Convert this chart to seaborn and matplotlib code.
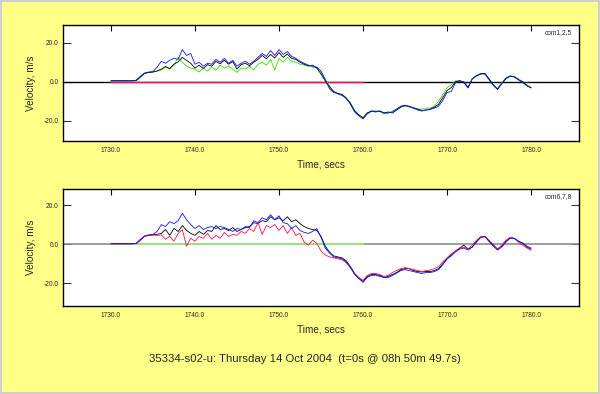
#!/usr/bin/env python3
"""
Velocity traces for two component groups (com1,2,5 and com6,7,8) over time.
"""

import numpy as np
import pandas as pd
import matplotlib
matplotlib.use('Agg')
import matplotlib.pyplot as plt
from matplotlib.ticker import FormatStrFormatter
import seaborn as sns

# Sample times, secs
time_s = [
    1730.0, 1730.5, 1731.0, 1731.5, 1732.0, 1732.5, 1733.0, 1733.5, 1734.0, 1734.5,
    1735.0, 1735.5, 1736.0, 1736.5, 1737.0, 1737.5, 1738.0, 1738.5, 1739.0, 1739.5,
    1740.0, 1740.5, 1741.0, 1741.5, 1742.0, 1742.5, 1743.0, 1743.5, 1744.0, 1744.5,
    1745.0, 1745.5, 1746.0, 1746.5, 1747.0, 1747.5, 1748.0, 1748.5, 1749.0, 1749.5,
    1750.0, 1750.5, 1751.0, 1751.5, 1752.0, 1752.5, 1753.0, 1753.5, 1754.0, 1754.5,
    1755.0, 1755.5, 1756.0, 1756.5, 1757.0, 1757.5, 1758.0, 1758.5, 1759.0, 1759.5,
    1760.0, 1760.5, 1761.0, 1761.5, 1762.0, 1762.5, 1763.0, 1763.5, 1764.0, 1764.5,
    1765.0, 1765.5, 1766.0, 1766.5, 1767.0, 1767.5, 1768.0, 1768.5, 1769.0, 1769.5,
    1770.0, 1770.5, 1771.0, 1771.5, 1772.0, 1772.5, 1773.0, 1773.5, 1774.0, 1774.5,
    1775.0, 1775.5, 1776.0, 1776.5, 1777.0, 1777.5, 1778.0, 1778.5, 1779.0, 1779.5,
    1780.0,
]

# Top panel (com1,2,5), m/s
top_black = [
    0.5, 0.5, 0.5, 0.5, 0.5, 0.5, 0.6, 2.5, 4.3, 4.8,
    5.0, 5.5, 6.5, 7.8, 6.8, 9.0, 10.2, 12.5, 11.0, 9.5,
    7.0, 8.5, 6.8, 8.8, 8.0, 10.5, 9.2, 11.0, 9.0, 10.3,
    6.5, 8.8, 9.5, 8.2, 10.0, 11.5, 13.5, 11.8, 14.0, 12.2,
    15.0, 12.5, 14.2, 12.0, 11.5, 10.0, 9.0, 8.2, 8.5, 7.0,
    4.0, 0.5, -2.5, -5.0, -6.0, -6.5, -8.5, -11.0, -15.0, -17.0,
    -18.5, -16.0, -15.0, -15.2, -15.0, -16.0, -15.5, -16.0, -14.5, -13.0,
    -12.2, -12.5, -13.5, -14.0, -14.8, -14.5, -14.0, -13.0, -11.5, -8.0,
    -4.5, -3.0, 0.0, 0.5, -0.5, -3.0, 1.5, 3.0, 4.0, 4.3,
    1.5, -1.5, -3.8, -1.0, 1.5, 2.8, 2.5, 1.0, 0.0, -2.0,
    -3.2,
]
top_blue = [
    0.5, 0.5, 0.5, 0.5, 0.5, 0.5, 0.8, 2.8, 4.5, 5.0,
    5.2, 7.5, 10.5, 9.5, 11.0, 12.0, 11.5, 16.5, 13.5, 14.5,
    9.0, 10.0, 8.0, 9.5, 9.0, 11.5, 10.0, 12.0, 9.5, 11.0,
    8.0, 9.5, 10.5, 9.0, 10.5, 12.5, 14.5, 13.0, 16.0, 13.5,
    16.5, 14.0, 15.5, 13.0, 12.0, 10.5, 9.5, 8.5, 8.0, 7.5,
    5.5, 1.0, -3.5, -5.5, -6.2, -7.0, -8.5, -11.5, -15.5, -17.5,
    -19.0, -16.5, -15.2, -15.5, -15.0, -16.0, -16.0, -15.5, -14.0, -12.5,
    -12.0, -12.8, -13.5, -14.5, -15.0, -14.5, -14.2, -13.5, -12.5, -9.5,
    -5.5, -5.0, -0.5, 0.5, 0.0, -3.2, 1.5, 3.2, 4.2, 4.0,
    1.0, -1.8, -4.0, -1.0, 1.8, 3.0, 2.5, 1.0, -0.5, -2.0,
    -3.0,
]
top_green = [
    0.5, 0.5, 0.5, 0.5, 0.5, 0.5, 0.5, 2.0, 4.2, 4.8,
    5.0, 5.5, 6.0, 7.5, 6.5, 8.5, 12.5, 10.0, 8.0, 7.0,
    6.5, 5.0, 7.0, 5.5, 7.5, 6.0, 8.5, 7.0, 8.0, 6.5,
    4.8, 7.0, 6.5, 8.0, 6.0, 9.0, 10.0, 8.5, 11.5, 6.0,
    12.0, 10.0, 12.5, 10.5, 10.0, 9.0, 8.5, 8.0, 7.5, 7.0,
    5.0, 1.5, -2.0, -5.0, -6.0, -6.5, -8.0, -11.0, -14.5, -17.0,
    -18.5, -16.0, -15.0, -15.0, -15.2, -16.5, -16.0, -15.0, -14.0, -12.8,
    -12.5, -13.0, -13.0, -14.0, -14.0, -13.5, -13.5, -12.5, -10.0, -6.5,
    -3.0, -1.5, 0.5, 0.5, 0.0, -2.5, 1.5, 3.0, 4.0, 4.0,
    1.5, -1.5, -3.5, -0.5, 2.0, 3.0, 2.8, 1.5, 0.0, -1.5,
    -3.0,
]
top_flat_time = [1730.0, 1760.0]
top_flat = [0.0, 0.0]

# Bottom panel (com6,7,8), m/s
bot_black = [
    0.2, 0.2, 0.2, 0.2, 0.2, 0.2, 0.3, 2.0, 4.0, 4.5,
    4.8, 5.0, 5.5, 7.5, 4.5, 8.0, 6.5, 9.5, 7.0, 5.5,
    4.5, 6.5, 5.0, 7.0, 6.5, 9.5, 7.5, 8.0, 7.0, 8.5,
    6.5, 7.5, 8.5, 9.0, 11.0, 10.5, 12.0, 11.5, 14.0, 12.5,
    13.5, 12.0, 14.0, 11.5, 12.5, 10.5, 9.0, 8.0, 7.5, 7.0,
    4.0, -1.0, -4.0, -6.0, -6.5, -7.0, -8.5, -11.5, -15.0, -17.5,
    -19.0, -16.5, -15.5, -15.5, -16.0, -17.0, -16.5, -15.5, -14.5, -13.0,
    -12.5, -12.5, -13.5, -14.0, -14.2, -14.0, -14.0, -13.5, -12.5, -10.0,
    -7.5, -5.5, -3.5, -2.0, -0.5, -2.5, -1.5, 1.5, 3.5, 3.8,
    1.5, -0.5, -2.5, -1.0, 1.5, 3.2, 3.0, 1.5, 0.5, -1.5,
    -2.5,
]
bot_blue = [
    0.2, 0.2, 0.2, 0.2, 0.2, 0.2, 0.4, 2.5, 4.2, 4.8,
    5.0, 6.5, 10.0, 9.0, 11.5, 10.5, 12.0, 15.8, 12.5, 10.0,
    8.0, 9.5, 7.5, 8.5, 9.0, 8.0, 9.0, 8.5, 7.5, 6.5,
    8.0, 7.5, 9.0, 8.5, 12.0, 11.0, 13.5, 12.5, 15.0, 12.5,
    14.5, 11.0, 10.5, 8.0, 9.5, 7.0, 6.0, 5.5, 6.5, 8.0,
    3.5, -2.0, -4.5, -6.5, -7.0, -7.5, -9.0, -12.0, -15.5, -17.5,
    -19.5, -17.0, -16.0, -15.8, -16.5, -17.0, -17.0, -16.0, -14.8, -13.5,
    -13.0, -13.5, -14.0, -14.5, -15.0, -14.5, -14.5, -14.0, -13.0, -10.5,
    -7.5, -6.0, -4.0, -2.5, -2.0, -3.0, -1.5, 1.0, 3.5, 4.0,
    1.5, -1.0, -3.0, -1.5, 1.0, 3.0, 3.0, 1.5, 0.5, -1.0,
    -2.0,
]
bot_red = [
    0.2, 0.2, 0.2, 0.2, 0.2, 0.2, 0.3, 2.0, 4.0, 4.5,
    4.6, 4.5, 4.8, 2.5, 4.0, 1.5, 5.5, 7.5, -1.0, 3.0,
    1.5, 4.0, 3.0, 5.5, 2.5, 4.5, 3.0, 6.0, 4.0, 5.0,
    4.5, 6.5, 5.5, 8.0, 6.5, 11.0, 5.0, 9.5, 8.5, 10.0,
    7.0, 9.5, 5.5, 8.5, 4.5, 5.5, 1.0, -0.5, 2.0, 0.5,
    -3.5, -5.5, -6.5, -7.0, -7.5, -8.0, -9.5, -12.0, -15.0, -17.0,
    -18.5, -16.0, -15.0, -15.0, -15.5, -16.5, -16.0, -14.5, -13.5, -12.5,
    -12.0, -12.5, -13.0, -13.5, -14.0, -13.5, -13.2, -12.5, -11.5, -9.0,
    -7.0, -5.0, -3.5, -2.0, -1.5, -2.5, -0.5, 2.0, 3.8, 4.0,
    2.0, 0.0, -2.8, -0.5, 2.0, 3.5, 3.0, 1.0, -0.5, -2.0,
    -3.2,
]
bot_flat_time = [1730.0, 1760.0]
bot_flat = [0.0, 0.0]

x_ticks = [1730, 1740, 1750, 1760, 1770, 1780]
y_ticks = [-20, 0, 20]

BG = '#FFFF88'


def long_frame(series):
    parts = []
    for name, vals in series.items():
        parts.append(pd.DataFrame({'time': time_s, 'velocity': vals, 'trace': name}))
    return pd.concat(parts, ignore_index=True)


def style_axis(ax, ylim, tag):
    ax.set_facecolor('white')
    ax.set_xlim(1724.3, 1785.7)
    ax.set_ylim(*ylim)
    ax.set_xticks(x_ticks)
    ax.set_yticks(y_ticks)
    ax.xaxis.set_major_formatter(FormatStrFormatter('%.1f'))
    ax.yaxis.set_major_formatter(FormatStrFormatter('%.1f'))
    ax.tick_params(axis='x', direction='in', top=True, bottom=False,
                   labelbottom=True, length=4, width=0.8, pad=4,
                   labelsize=4.8, color='black')
    ax.tick_params(axis='y', direction='in', left=True, right=True,
                   length=6, width=0.8, pad=3, labelsize=4.8, color='#333333')
    for sp in ax.spines.values():
        sp.set_visible(True)
        sp.set_color('black')
        sp.set_linewidth(1.0)
    ax.set_xlabel('Time, secs', fontsize=7.2, labelpad=4)
    ax.set_ylabel('Velocity, m/s', fontsize=7.2, labelpad=6)
    ax.text(0.986, 0.935, tag, transform=ax.transAxes, ha='right', va='center',
            fontsize=4.8)


def main():
    sns.set_style('ticks')
    plt.rcParams['font.family'] = ['Liberation Sans', 'DejaVu Sans']

    fig = plt.figure(figsize=(6.0, 3.94), dpi=100)
    fig.patch.set_facecolor(BG)
    fig.patch.set_edgecolor('#CFCFCF')
    fig.patch.set_linewidth(1.6)

    ax1 = fig.add_axes([0.105, 0.642, 0.86, 0.2945])
    ax2 = fig.add_axes([0.105, 0.2234, 0.86, 0.2969])

    # Top panel
    ax1.axhline(0, color='black', lw=1.0, zorder=1)
    sns.lineplot(x=top_flat_time, y=top_flat, color='#FF1050', lw=1.0, ax=ax1)
    df_top = long_frame({'g': top_green, 'k': top_black, 'b': top_blue})
    sns.lineplot(data=df_top, x='time', y='velocity', hue='trace',
                 palette={'g': '#33DD00', 'k': 'black', 'b': '#1010FF'},
                 estimator=None, sort=False, lw=0.6, legend=False, ax=ax1)
    style_axis(ax1, (-30.4, 29.1), 'com1,2,5')

    # Bottom panel
    ax2.axhline(0, color='#8C8C8C', lw=1.2, zorder=1)
    sns.lineplot(x=bot_flat_time, y=bot_flat, color='#99EE77', lw=1.2, ax=ax2)
    df_bot = long_frame({'k': bot_black, 'r': bot_red, 'b': bot_blue})
    sns.lineplot(data=df_bot, x='time', y='velocity', hue='trace',
                 palette={'k': 'black', 'r': '#FF1050', 'b': '#1010FF'},
                 estimator=None, sort=False, lw=0.6, legend=False, ax=ax2)
    style_axis(ax2, (-31.6, 28.2), 'com6,7,8')

    fig.text(0.508, 1 - 359 / 394,
             '35334-s02-u: Thursday 14 Oct 2004  (t=0s @ 08h 50m 49.7s)',
             ha='center', va='center', fontsize=8.2)

    fig.savefig('out.png', dpi=100, facecolor=BG)


if __name__ == '__main__':
    main()
